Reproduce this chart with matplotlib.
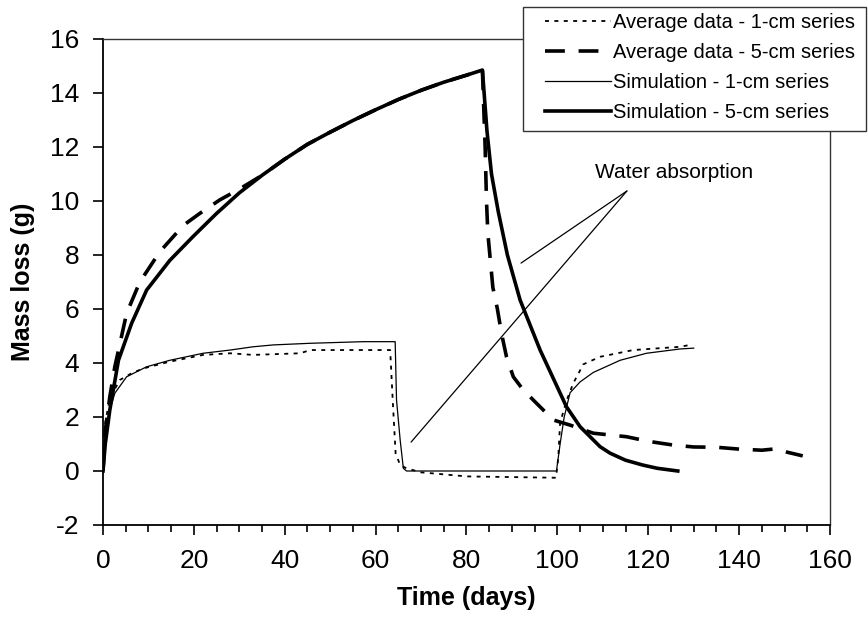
import matplotlib.pyplot as plt
from matplotlib.patches import Rectangle
from matplotlib.ticker import MultipleLocator

plt.rcParams['font.family'] = ['Liberation Sans', 'DejaVu Sans']
plt.rcParams['axes.unicode_minus'] = False

# Average data - 1-cm series
avg1_t = [0, 0.5, 1.5, 3.7, 6.3, 8.9, 14.7, 22, 28, 33, 43.4, 45.6, 63.2, 63.8,
          64.4, 65.4, 66.8, 70, 80, 99.7, 100.2, 100.6, 102, 103.5, 105.7,
          109.4, 116.7, 127, 129.2]
avg1_y = [0, 1.8, 2.7, 3.37, 3.62, 3.8, 4.05, 4.3, 4.36, 4.3, 4.36, 4.48, 4.48,
          2.5, 0.65, 0.22, 0.1, -0.05, -0.2, -0.25, 0.5, 1.78, 2.6, 3.25, 3.95,
          4.23, 4.48, 4.6, 4.67]

# Average data - 5-cm series
avg5_t = [0, 0.5, 1.5, 2.6, 5.2, 8.1, 12.5, 17.7, 21.3, 25.7, 30.1, 35, 40, 45,
          50, 55, 60, 65, 70, 75, 80, 83.5, 84.1, 84.4, 84.7, 85.8, 86.8, 87.7,
          88.8, 90.3, 92.5, 95.4, 99.1, 102.8, 107.9, 115.2, 120, 125.5, 130,
          135, 140, 145, 148, 150.5, 154]
avg5_y = [0, 1.5, 2.75, 3.86, 5.84, 7.0, 8.12, 9.1, 9.54, 10.04, 10.45, 10.95,
          11.55, 12.1, 12.55, 12.98, 13.38, 13.76, 14.1, 14.4, 14.66, 14.85,
          12.0, 10.0, 8.8, 6.8, 6.0, 5.1, 4.23, 3.49, 3.0, 2.51, 1.89, 1.70,
          1.40, 1.27, 1.1, 0.96, 0.89, 0.88, 0.81, 0.77, 0.82, 0.70, 0.56]

# Simulation - 1-cm series
sim1_t = [0, 0.5, 1.5, 2.6, 5.2, 9.6, 14.7, 22, 28, 33, 37.5, 45.6, 57.3, 64.3,
          64.6, 65.4, 66.1, 66.8, 80, 99.8, 100.2, 100.6, 101.5, 102.8, 105,
          107.9, 113.8, 119.6, 127, 130]
sim1_y = [0, 1.5, 2.26, 2.88, 3.49, 3.86, 4.1, 4.36, 4.48, 4.6, 4.67, 4.73,
          4.79, 4.79, 2.63, 1.15, 0.1, 0, 0, 0, 0.5, 1.0, 2.0, 2.9, 3.3, 3.65,
          4.1, 4.36, 4.52, 4.55]

# Simulation - 5-cm series
sim5_t = [0, 0.5, 1.5, 3.4, 6.3, 9.6, 14.7, 19.8, 25, 30, 35, 40, 45, 50, 55,
          60, 65, 70, 75, 80, 83.5, 84.5, 85.5, 87, 89, 91.8, 96.2, 102, 105,
          109.4, 111.6, 115, 118.8, 122, 126.5]
sim5_y = [0, 1.0, 2.26, 4.1, 5.47, 6.7, 7.8, 8.68, 9.54, 10.3, 10.95, 11.55,
          12.1, 12.55, 12.98, 13.38, 13.76, 14.1, 14.4, 14.66, 14.85, 12.6,
          11.0, 9.6, 8.0, 6.33, 4.48, 2.38, 1.64, 0.9, 0.66, 0.4, 0.22, 0.1, 0.0]

fig = plt.figure(figsize=(8.68, 6.26), dpi=100)
ax = fig.add_axes([103 / 868, 1 - 525 / 626, 727 / 868, 486 / 626])

ax.plot(avg1_t, avg1_y, color='black', lw=1.3, dashes=(2.2, 3.0),
        label='Average data - 1-cm series')
ax.plot(avg5_t, avg5_y, color='black', lw=2.6, dashes=(5.5, 3.8),
        label='Average data - 5-cm series')
ax.plot(sim1_t, sim1_y, color='black', lw=0.9, label='Simulation - 1-cm series')
ax.plot(sim5_t, sim5_y, color='black', lw=2.6, label='Simulation - 5-cm series')

# leader lines for the label
for end in [(92.0, 7.7), (67.8, 1.07)]:
    ax.annotate('', xy=end, xytext=(115.3, 10.37),
                arrowprops=dict(arrowstyle='-', color='black', lw=0.9,
                                shrinkA=0, shrinkB=0))
ax.text(125.7, 11.04, 'Water absorption', fontsize=15, ha='center', va='center')

ax.set_xlim(0, 160)
ax.set_ylim(-2, 16)
ax.xaxis.set_major_locator(MultipleLocator(20))
ax.xaxis.set_minor_locator(MultipleLocator(5))
ax.yaxis.set_major_locator(MultipleLocator(2))
ax.tick_params(axis='both', which='major', direction='out', length=7,
               width=1.2, labelsize=19, color='black')
ax.tick_params(axis='x', which='major', pad=10)
ax.tick_params(axis='y', which='major', pad=10)
ax.tick_params(axis='x', which='minor', direction='out', length=5, width=1.2)

for s in ['left', 'bottom']:
    ax.spines[s].set_linewidth(1.3)
    ax.spines[s].set_color('black')
for s in ['top', 'right']:
    ax.spines[s].set_linewidth(1.0)
    ax.spines[s].set_color('#333333')

ax.set_xlabel('Time (days)', fontsize=18, fontweight='bold')
ax.set_ylabel('Mass loss (g)', fontsize=18, fontweight='bold')
ax.xaxis.set_label_coords(0.5, -0.125)
ax.yaxis.set_label_coords(-0.094, 0.5)

# legend box drawn by hand so its padding matches
fig.patches.append(Rectangle((523 / 868, 1 - 131 / 626), 343 / 868, 124 / 626,
                             transform=fig.transFigure, facecolor='white',
                             edgecolor='#333333', lw=1.0, zorder=5))
leg = fig.legend(loc='upper left', bbox_to_anchor=(545 / 868, 1 - 13 / 626),
                 fontsize=14.5, frameon=False, handlelength=3.3,
                 handletextpad=0.1, labelspacing=0.55, borderpad=0,
                 borderaxespad=0)
leg.set_zorder(6)

fig.savefig('out.png', dpi=100)
